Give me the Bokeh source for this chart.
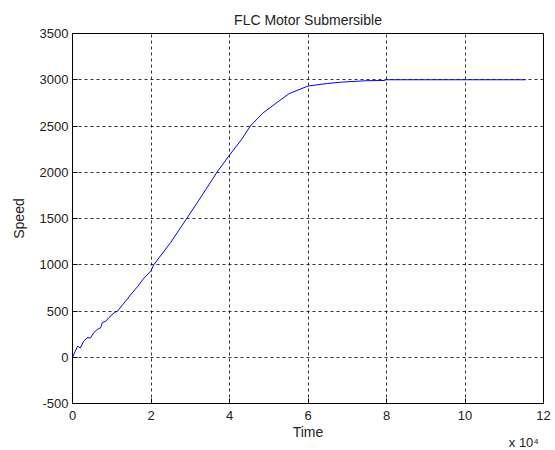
from bokeh.plotting import figure
from bokeh.models import Range1d, FixedTicker, LinearAxis
from bokeh.embed import file_html
from bokeh.resources import INLINE

# Data (time in units of 10^4)
time_e4 = [0, 0.07, 0.13, 0.2, 0.28, 0.37, 0.46, 0.54, 0.63, 0.72, 0.76, 0.85, 0.93,
           1.06, 1.15, 1.28, 1.36, 1.49, 1.67, 1.8, 2.0, 2.07, 2.5, 2.91, 3.3, 3.68,
           4.0, 4.3, 4.53, 4.85, 5.17, 5.52, 6.0, 6.5, 6.88, 7.5, 7.95, 8.0, 9.0,
           10.0, 11.0, 11.55]
speed = [0, 65, 120, 100, 170, 210, 210, 265, 300, 320, 375, 390, 430,
         480, 500, 570, 610, 680, 770, 845, 935, 1000, 1240, 1500, 1750, 2000,
         2186, 2350, 2500, 2640, 2742, 2850, 2932, 2960, 2975, 2990, 2992, 3000, 3000,
         3000, 3000, 3000]
x_ticks = [0, 2, 4, 6, 8, 10, 12]
y_ticks = [-500, 0, 500, 1000, 1500, 2000, 2500, 3000, 3500]
y_tick_labels = ["-500", "0", "500", "1000", "1500", "2000", "2500", "3000", "3500"]
x_scale_text = "x 10\u2074"

FONT = "Liberation Sans"

p = figure(frame_width=471, frame_height=370, output_backend="svg", toolbar_location=None,
           x_range=Range1d(0, 12), y_range=Range1d(-500, 3500),
           min_border_left=72, min_border_right=10, min_border_top=33, min_border_bottom=40,
           title="FLC Motor Submersible")
p.background_fill_color = "white"
p.border_fill_color = "white"
p.outline_line_color = "black"
p.outline_line_width = 1

p.title.align = "center"
p.title.text_font = FONT
p.title.text_font_size = "14px"
p.title.text_font_style = "normal"
p.title.text_color = "#222222"
p.title.standoff = 12

for ax in (p.xaxis[0], p.yaxis[0]):
    ax.axis_line_color = "black"
    ax.major_tick_line_color = "black"
    ax.major_tick_in = 5
    ax.major_tick_out = 0
    ax.minor_tick_line_color = None
    ax.major_label_text_font = FONT
    ax.major_label_text_font_size = "13px"
    ax.major_label_text_color = "#222222"
    ax.axis_label_text_font = FONT
    ax.axis_label_text_font_size = "14px"
    ax.axis_label_text_font_style = "normal"
    ax.axis_label_text_color = "#222222"

p.xaxis.ticker = FixedTicker(ticks=x_ticks)
p.yaxis.ticker = FixedTicker(ticks=y_ticks)
p.yaxis.major_label_overrides = dict(zip(y_ticks, y_tick_labels))
p.xaxis.axis_label = "Time"
p.yaxis.axis_label = "Speed"
p.xaxis.major_label_standoff = 7
p.xaxis.axis_label_standoff = 1
p.yaxis.major_label_standoff = 4
p.yaxis.axis_label_standoff = 10

# secondary bottom axis carrying only the "x 10^4" multiplier
scale_axis = LinearAxis(ticker=FixedTicker(ticks=[11.5]),
                        major_label_overrides={11.5: x_scale_text})
scale_axis.axis_line_color = None
scale_axis.major_tick_line_color = None
scale_axis.minor_tick_line_color = None
scale_axis.major_tick_in = 0
scale_axis.major_tick_out = 0
scale_axis.major_label_standoff = -8
scale_axis.major_label_text_font = FONT
scale_axis.major_label_text_font_size = "13px"
scale_axis.major_label_text_color = "#222222"
p.add_layout(scale_axis, "below")

p.xgrid.ticker = FixedTicker(ticks=x_ticks)
p.ygrid.ticker = FixedTicker(ticks=y_ticks)
for g in (p.xgrid[0], p.ygrid[0]):
    g.grid_line_color = "black"
    g.grid_line_alpha = 0.8
    g.grid_line_dash = "3 3"
    g.grid_line_width = 1

p.line(time_e4, speed, line_color="#0000ff", line_width=1)

out = file_html(p, INLINE)
open("out.html", "w").write(out)
